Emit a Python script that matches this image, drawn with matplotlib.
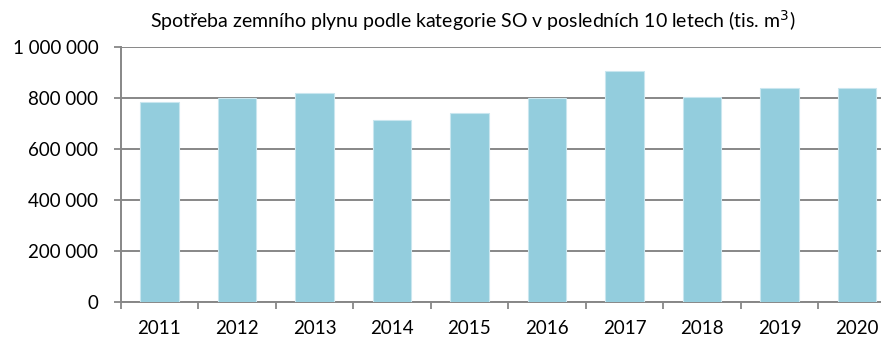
import matplotlib
matplotlib.use('Agg')
import matplotlib.pyplot as plt
from matplotlib.ticker import FuncFormatter, MultipleLocator

roky = ['2011', '2012', '2013', '2014', '2015', '2016', '2017', '2018', '2019', '2020']
spotreba = [783000, 801000, 818000, 712000, 740000, 801000, 906000, 803000, 838000, 840000]

plt.rcParams['font.family'] = ['Lato', 'DejaVu Sans']

fig = plt.figure(figsize=(8.81, 3.38), dpi=100)
# osa je o kousek širší než obrázek, poslední sloupec končí těsně u okraje
ax = fig.add_axes([120.7 / 881, 36 / 338, 775 / 881, 255 / 338])

pozice = list(range(len(roky)))
ax.bar(pozice, spotreba, width=0.5, color='#93CDDD', edgecolor='#C9E6EF',
       linewidth=0.8, zorder=3)

ax.set_xlim(-0.5, len(roky) - 0.5)
ax.set_ylim(0, 1_000_000)
ax.yaxis.set_major_locator(MultipleLocator(200_000))
ax.yaxis.set_major_formatter(
    FuncFormatter(lambda v, _: f'{int(v):,}'.replace(',', ' ')))
ax.grid(axis='y', color='#878787', linewidth=1.4, zorder=0)

ax.set_xticks(pozice)
ax.set_xticklabels(roky)
ax.set_xticks([p + 0.5 for p in pozice[:-1]] + [-0.5], minor=True)
ax.tick_params(axis='x', which='major', length=0, pad=13, labelsize=13.5)
ax.tick_params(axis='x', which='minor', length=5, width=1.3, color='#878787')
ax.tick_params(axis='y', length=5, width=1.3, color='#878787', pad=11,
               labelsize=13.5)

for strana in ('top', 'right'):
    ax.spines[strana].set_visible(False)
for strana in ('left', 'bottom'):
    ax.spines[strana].set_color('#878787')
    ax.spines[strana].set_linewidth(1.4)

fig.text(473 / 881, 1 - 21 / 338,
         'Spotřeba zemního plynu podle kategorie SO v posledních 10 letech (tis. m$^3$)',
         ha='center', va='center', fontsize=14)

fig.savefig('out.png', dpi=100)
